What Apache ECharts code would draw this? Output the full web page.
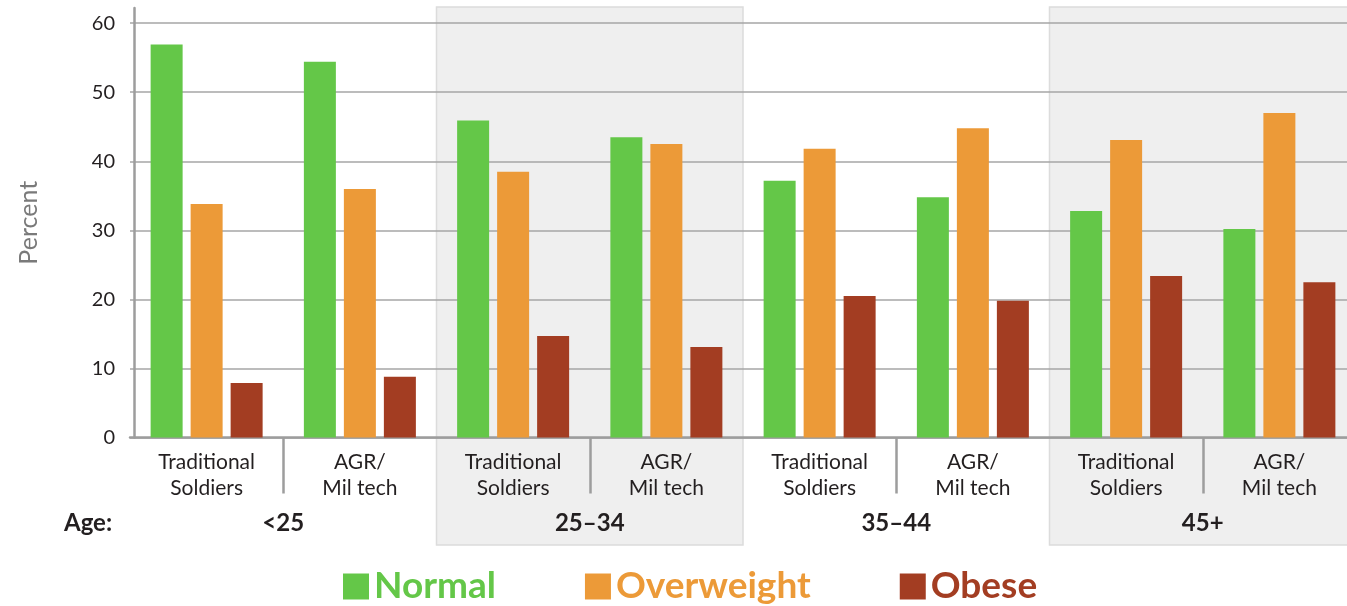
<!DOCTYPE html>
<html><head><meta charset="utf-8">
<script src="https://cdn.jsdelivr.net/npm/echarts@6/dist/echarts.min.js"></script>
<style>html,body{margin:0;padding:0;background:#fff}#c{width:1347px;height:606px}</style>
</head><body><div id="c"></div>
<script>
// ---- data ----
const subgroups = ['Traditional\nSoldiers','AGR/\nMil tech','Traditional\nSoldiers','AGR/\nMil tech','Traditional\nSoldiers','AGR/\nMil tech','Traditional\nSoldiers','AGR/\nMil tech'];
const ageGroups = ['<25','25–34','35–44','45+'];
const normal     = [56.9, 54.4, 45.9, 43.5, 37.2, 34.8, 32.8, 30.2];
const overweight = [33.8, 36.0, 38.5, 42.5, 41.8, 44.8, 43.1, 47.0];
const obese      = [7.9, 8.8, 14.7, 13.1, 20.5, 19.8, 23.4, 22.5];
const seriesNames = ['Normal','Overweight','Obese'];
const yMin = 0, yMax = 62.2, yStep = 10;

const colors = ['#64C748','#EC9A38','#A33D22'];
const FONT = 'Lato';
const dark = '#231f20';
const axisGray = '#9d9d9d';

const chart = echarts.init(document.getElementById('c'));
const values = [normal, overweight, obese];
chart.setOption({
  animation: false,
  textStyle: {fontFamily: FONT},
  grid: {left: 130, width: 1226, top: 8, bottom: 168.5, containLabel: false, outerBoundsMode: 'none'},
  title: {text: 'Age:', left: 64, top: 511, padding: 0,
    textStyle: {fontFamily: FONT, fontWeight: 'bold', fontSize: 24, color: dark}},
  legend: {
    left: 343, top: 568, padding: 0, itemWidth: 26, itemHeight: 26, itemGap: 89,
    icon: 'rect',
    data: seriesNames.map((n, i) => ({name: n, textStyle: {color: colors[i]}})),
    textStyle: {fontFamily: FONT, fontWeight: 'bold', fontSize: 37}
  },
  xAxis: [{
    type: 'category', data: subgroups, position: 'bottom',
    axisLine: {lineStyle: {color: axisGray, width: 2.5}},
    axisTick: {show: true, interval: (i) => i % 2 === 1, length: 56, lineStyle: {color: axisGray, width: 2.5}},
    axisLabel: {interval: 0, margin: 12, fontSize: 21, lineHeight: 26, color: dark, fontFamily: FONT},
    splitLine: {show: false}
  }, {
    type: 'category', data: ageGroups, position: 'bottom', offset: 69,
    axisLine: {show: false}, axisTick: {show: false},
    axisLabel: {interval: 0, margin: 5, fontSize: 24, fontWeight: 'bold', color: dark, fontFamily: FONT}
  }],
  yAxis: {
    type: 'value', min: yMin, max: yMax, interval: yStep, offset: -4,
    name: 'Percent', nameLocation: 'middle', nameRotate: 90, nameGap: 93,
    nameTextStyle: {fontSize: 25, color: '#7a7a7a', fontFamily: FONT},
    axisLine: {show: true, lineStyle: {color: axisGray, width: 2.5}},
    axisTick: {show: false},
    axisLabel: {fontSize: 20, color: dark, margin: 19, showMaxLabel: false, fontFamily: FONT},
    splitLine: {show: true, showMaxLine: false, lineStyle: {color: '#a6a6a6', width: 1.5}}
  },
  series: seriesNames.map((n, i) => ({
    name: n, type: 'bar', xAxisIndex: 0, data: values[i],
    barWidth: 32, barGap: '25%', itemStyle: {color: colors[i]}, z: 3
  }))
});

// shaded bands behind age groups 2 and 4, placed with the library's scale
function drawBands() {
  const c0 = chart.convertToPixel({xAxisIndex: 1}, 0);
  const c1 = chart.convertToPixel({xAxisIndex: 1}, 1);
  const w = c1 - c0;
  const topY = chart.convertToPixel({yAxisIndex: 0}, yMax);
  const bottomY = 545;
  const els = [];
  [1, 3].forEach(gi => {
    const cx = chart.convertToPixel({xAxisIndex: 1}, gi);
    els.push({type: 'rect', z: -10, silent: true,
      shape: {x: cx - w / 2, y: topY - 1, width: w, height: bottomY - topY + 1},
      style: {fill: '#efefef', stroke: '#dcdcdc', lineWidth: 1.5}});
  });
  chart.setOption({graphic: els});
}
drawBands();
</script>
</body></html>
